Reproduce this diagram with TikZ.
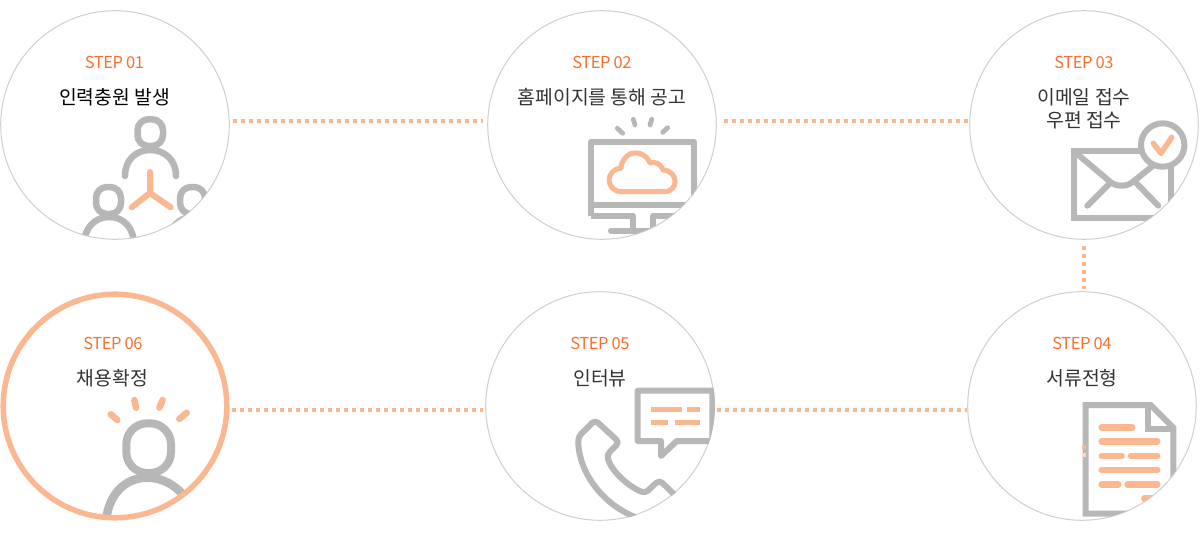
\documentclass[tikz,border=0pt]{standalone}
\usepackage{fontspec}
\newfontfamily\kr{Noto Sans CJK KR}
\newfontfamily\krstep[LetterSpace=-3]{Noto Sans CJK KR}
\definecolor{ringc}{HTML}{CFCFCF}
\definecolor{peach}{HTML}{FBB78F}
\definecolor{icong}{HTML}{B7B7B7}
\definecolor{stepor}{HTML}{F96F2E}
\definecolor{txtd}{HTML}{333333}
\tikzset{
  stepcircle/.style={circle,draw=ringc,line width=1pt,minimum size=228.6pt,inner sep=0pt,outer sep=0pt,fill=white},
  conn/.style={draw=peach,line width=4pt,dash pattern=on 4pt off 4pt},
  steplabel/.style={anchor=base,inner sep=0pt,text=stepor,font=\krstep\fontsize{16.5}{16.5}\selectfont},
  titlelabel/.style={anchor=base,inner sep=0pt,text=txtd,font=\kr\fontsize{19.3}{19.3}\selectfont},
  gicon/.style={draw=icong,line width=6pt,line join=round},
  gicont/.style={draw=icong,line width=6.5pt,line cap=round,line join=round},
  oicon/.style={draw=peach,line width=5.5pt,line cap=round,line join=round},
  obar/.style={draw=peach,line width=6.5pt,line cap=round},
  obutt/.style={draw=peach,line width=5pt},
}
\begin{document}
\begin{tikzpicture}[x=1pt,y=-1pt]
\useasboundingbox[fill=white] (0,0) rectangle (1200,536);
% circles
\node[stepcircle] (c1) at (115,125) {};
\node[stepcircle] (c2) at (602,125) {};
\node[stepcircle] (c3) at (1084,125) {};
\node[stepcircle] (c4) at (1082,406) {};
\node[stepcircle] (c5) at (600,406) {};
\node[circle,minimum size=228.6pt,inner sep=0pt,outer sep=0pt,fill=white] (c6) at (115,406) {};
% connectors
\draw[conn] ([shift={(3.4,-4)}]c1.east) -- ([shift={(-5,-4)}]c2.west);
\draw[conn] ([shift={(7.5,-4)}]c2.east) -- ([shift={(-1,-4)}]c3.west);
\draw[conn] ([shift={(0,6.5)}]c3.south) -- ([shift={(2,-3)}]c4.north);
\draw[conn] ([shift={(3,4)}]c6.east) -- ([shift={(-2.5,4)}]c5.west);
\draw[conn] ([shift={(2.5,4)}]c5.east) -- ([shift={(-0.5,4)}]c4.west);
% icon 1
\begin{scope}
\clip (c1) circle[radius=114];
\draw[gicont,rounded corners=11pt] (137.5,119.3) rectangle (163,146);
\draw[gicont] (125,176) .. controls (125,160) and (136,150) .. (150,150) .. controls (165,150) and (176,160) .. (176,176);
\draw[oicon,line width=6pt] (150,172) -- (150,193) -- (131.7,207.3);
\draw[oicon,line width=6pt] (150,193) -- (170.7,207.3);
\draw[gicont,rounded corners=11pt] (96,187) rectangle (121,214);
\draw[gicont] (84,245) .. controls (84,228) and (95,217) .. (109,217) .. controls (124,217) and (134,228) .. (134,245);
\draw[gicont,rounded corners=11pt] (180,187) rectangle (205,214);
\draw[gicont] (168,245) .. controls (168,228) and (179,217) .. (193,217) .. controls (208,217) and (218,228) .. (218,245);
\end{scope}
% icon 2
\begin{scope}
\clip (c2) circle[radius=114];
\draw[gicon] (591,216) -- (591,142) -- (694,142) -- (694,216);
\draw[gicon] (591,204.5) -- (694,204.5);
\draw[gicon] (591,216) -- (633,216) -- (633,231);
\draw[gicon] (653,231) -- (653,216) -- (700,216);
\draw[gicon,line cap=round] (611,231) -- (700,231);
\draw[gicon,line width=4.8pt,line cap=round] (617.3,128.3) -- (622.7,133.3);
\draw[gicon,line width=4.8pt,line cap=round] (633.3,119.3) -- (635,125);
\draw[gicon,line width=4.8pt,line cap=round] (651.7,119.3) -- (650,125);
\draw[gicon,line width=4.8pt,line cap=round] (667.7,127.7) -- (662.7,132.3);
\draw[oicon,line width=5pt] (622,191.7) -- (664,191.7) .. controls (679,191.7) and (679,171) .. (663,170) .. controls (661,164) and (655,161) .. (650,163) .. controls (646,153) and (634,150) .. (627,156) .. controls (623,160) and (621,164) .. (621,168.3) .. controls (605,169) and (605,191.7) .. (622,191.7) -- cycle;
\end{scope}
% icon 3
\begin{scope}
\clip (c3) circle[radius=114];
\draw[gicon,miter limit=4,line join=miter] (1171,165) -- (1171,218) -- (1073.7,218) -- (1073.7,151) -- (1150,151);
\draw[gicon,line cap=round] (1073.7,151) -- (1110,181.7) .. controls (1116,187) and (1127,187) .. (1133,181.7) -- (1153,165.7);
\draw[gicon,line cap=round] (1087.3,205.7) -- (1110,183);
\draw[gicon,line cap=round] (1158.3,205.7) -- (1135,181.7);
\draw[gicon,fill=white] (1162.7,145) circle[radius=21.7];
\draw[oicon] (1153.3,143.3) -- (1161,153.3) -- (1171.7,137.3);
\end{scope}
% icon 4
\begin{scope}
\clip (c4) circle[radius=114];
\draw[gicon,line join=miter] (1173.3,540) -- (1173.3,427.7) -- (1150.7,405) -- (1085.7,405) -- (1085.7,513.7) -- (1180,513.7);
\draw[gicon,line join=miter] (1147.7,405) -- (1147.7,429.3) -- (1173.3,429.3);
\draw[obar] (1101.7,427.3) -- (1132.3,427.3);
\draw[obar] (1101.7,441.3) -- (1157.3,441.3);
\draw[obar] (1101.7,456) -- (1121.7,456);
\draw[obar] (1131,456) -- (1157.3,456);
\draw[obar] (1101.7,470) -- (1157.3,470);
\draw[obar] (1101.7,484.3) -- (1118.3,484.3);
\draw[obar] (1127.7,484.3) -- (1157.3,484.3);
\draw[obar] (1144.3,498.3) -- (1180,498.3);
\end{scope}
\fill[peach] (1082,444.7) rectangle (1086,448.7);
\fill[peach!55] (1082,452.5) rectangle (1086,456.5);
% icon 5
\begin{scope}
\clip (c5) circle[radius=115];
\draw[gicon] (661,441) -- (637.7,441) -- (637.7,390.7) -- (712.3,390.7) -- (712.3,441) -- (676.7,441) -- (661,456) -- cycle;
\draw[obutt] (651,409.7) -- (682,409.7);
\draw[obutt] (687,409.7) -- (700,409.7);
\draw[obutt] (651,422.3) -- (668.3,422.3);
\draw[obutt] (675,422.3) -- (700,422.3);
\draw[gicon,rounded corners=4pt] (680,500) -- (659.3,480) -- (645,493.3) .. controls (628,486) and (612,472) .. (606.7,455) -- (619.3,442.3) -- (595,420) -- (578.3,436.7) .. controls (578,470) and (602,510) .. (650,522);
\end{scope}
% icon 6
\begin{scope}
\clip (c6) circle[radius=112];
\draw[gicont,line width=8pt,rounded corners=21pt] (126.3,423.3) rectangle (171,473);
\draw[gicont,line width=8.5pt] (105.7,525) .. controls (107,495) and (125,477.7) .. (147,477.7) .. controls (165,477.7) and (180,487) .. (195,510);
\draw[obar] (110.7,414.3) -- (117.3,420);
\draw[obar] (134.3,400) -- (136,407.7);
\draw[obar] (162.7,400) -- (159.3,407.7);
\draw[obar] (186.7,412.7) -- (179.3,419);
\end{scope}
\draw[peach,line width=5.5pt] (c6) circle[radius=111.8];
% labels
\node[steplabel] (s1) at (114.5,68.3) {STEP 01};
\node[titlelabel,text=black] (t1) at (114.5,104.5) {인력충원 발생};
\node[steplabel] (s2) at (602,68.3) {STEP 02};
\node[titlelabel] (t2) at (602,104.5) {홈페이지를 통해 공고};
\node[steplabel] (s3) at (1084,68.3) {STEP 03};
\node[titlelabel] (t3) at (1084,104.5) {이메일 접수};
\node[titlelabel] (t3b) at (1084,127.5) {우편 접수};
\node[steplabel] (s4) at (1082,349.3) {STEP 04};
\node[titlelabel] (t4) at (1082,385.5) {서류전형};
\node[steplabel] (s5) at (600,349.3) {STEP 05};
\node[titlelabel] (t5) at (600,385.5) {인터뷰};
\node[steplabel] (s6) at (113,349.3) {STEP 06};
\node[titlelabel] (t6) at (112.5,385.5) {채용확정};
\end{tikzpicture}
\end{document}
